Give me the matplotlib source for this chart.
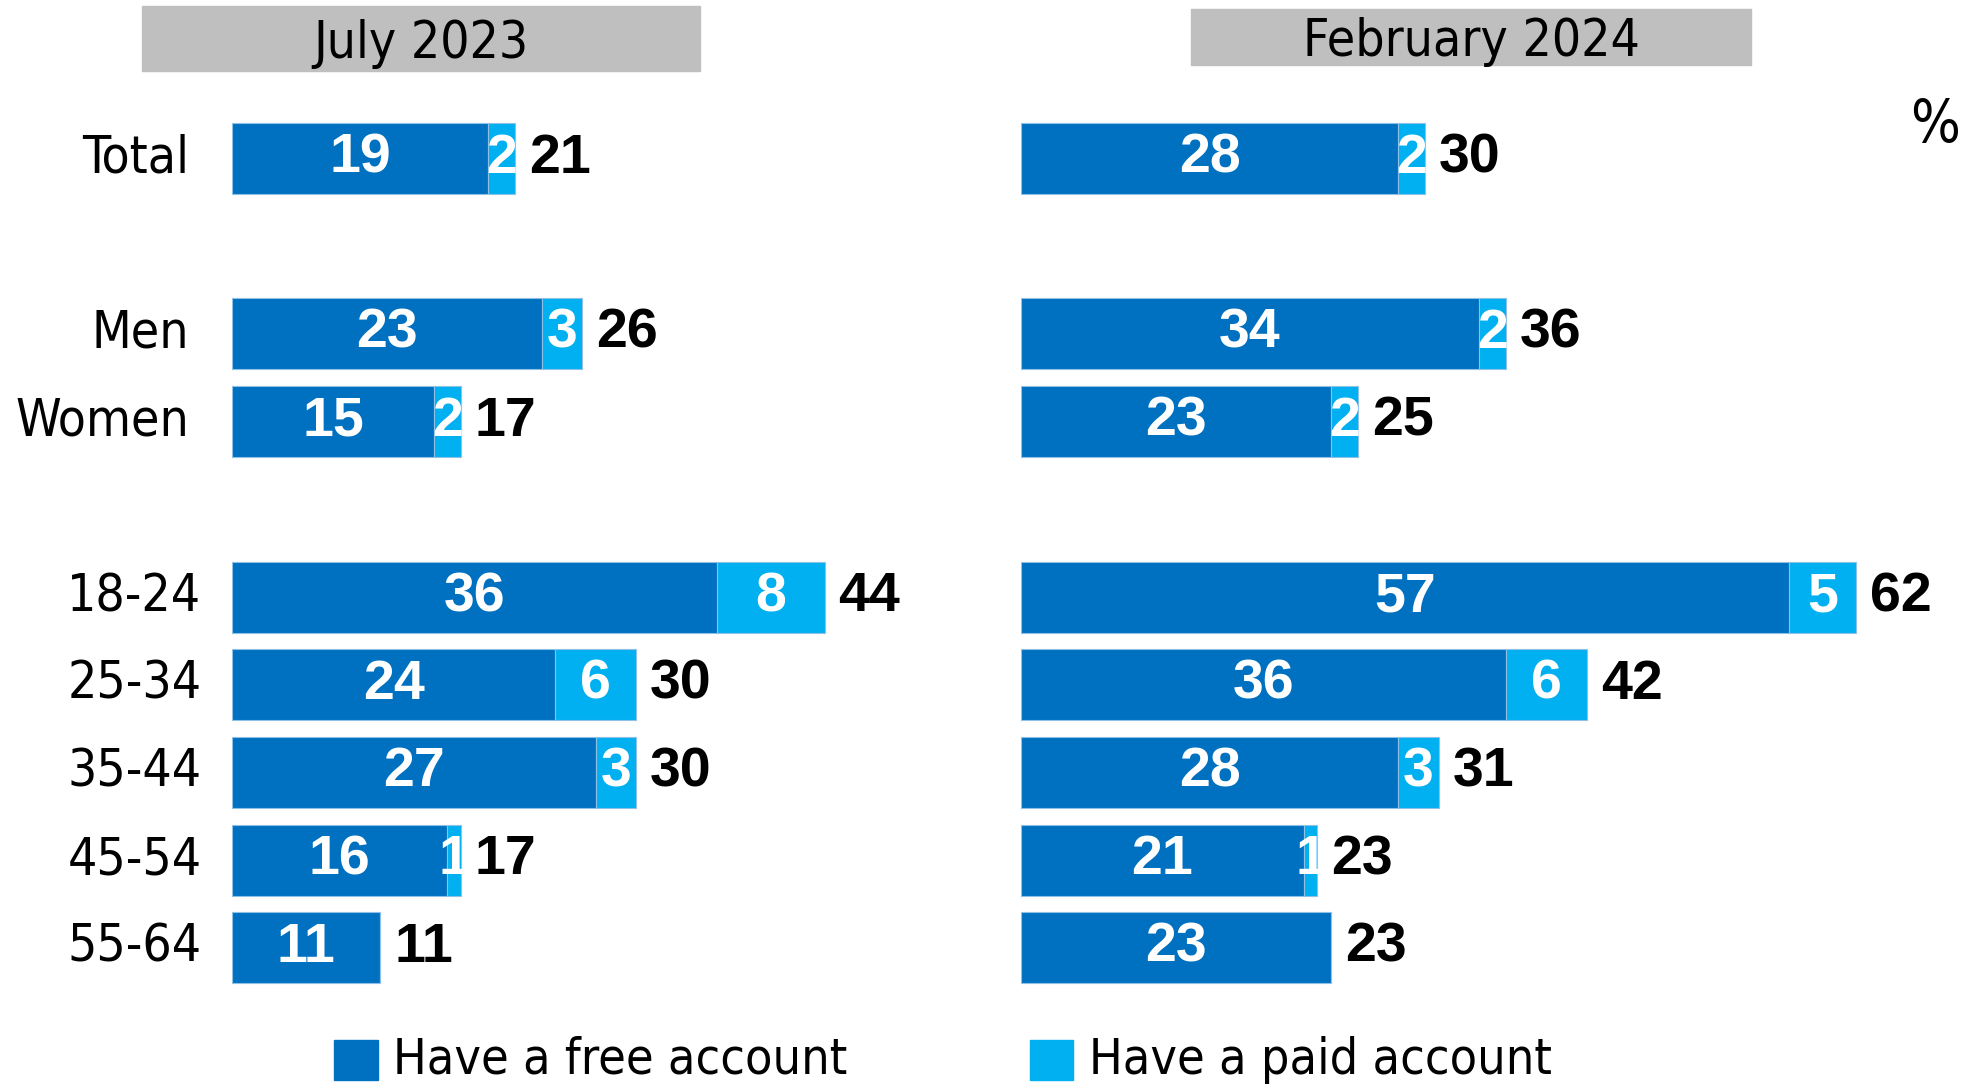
import matplotlib.pyplot as plt

# data
groups = ['Total', 'Men', 'Women', '18-24', '25-34', '35-44', '45-54', '55-64']
rows = [0, 2, 3, 5, 6, 7, 8, 9]
free_2023 = [19, 23, 15, 36, 24, 27, 16, 11]
paid_2023 = [2, 3, 2, 8, 6, 3, 1, 0]
total_2023 = [21, 26, 17, 44, 30, 30, 17, 11]
free_2024 = [28, 34, 23, 57, 36, 28, 21, 23]
paid_2024 = [2, 2, 2, 5, 6, 3, 1, 0]
total_2024 = [30, 36, 25, 62, 42, 31, 23, 23]
panels = ['July 2023', 'February 2024']

FREE = '#0070C0'
PAID = '#00B0F0'
NARROW = dict(family='DejaVu Sans', fontstretch='condensed')
BOLD = dict(family=['Liberation Sans', 'DejaVu Sans'], fontweight='bold')

W, H = 1964, 1089
S = 1.2526  # reference display -> full pixels
fig = plt.figure(figsize=(W / 100, H / 100), dpi=100)

bottom = 1 - (114.7 + 877) / H
height = 877 / H
ax1 = fig.add_axes([232 / W, bottom, 606 / W, height])
ax2 = fig.add_axes([1021 / W, bottom, 916 / W, height])
ax1.set_xlim(0, 45)
ax2.set_xlim(0, 68)


def draw(ax, free, paid, total):
    ax.barh(rows, free, height=0.81, color=FREE, edgecolor='#8fc0e6', linewidth=0.8)
    ax.barh(rows, paid, left=free, height=0.81, color=PAID, edgecolor='#8fc0e6', linewidth=0.8)
    for r, f, p, t in zip(rows, free, paid, total):
        ax.text(f / 2, r, str(f), ha='center', va='center', color='white',
                fontsize=40, **BOLD)
        if p > 0:
            ax.text(f + p / 2, r, str(p), ha='center', va='center', color='white',
                    fontsize=40, **BOLD)
        ax.annotate(str(t), (f + p, r), xytext=(10, 0), textcoords='offset points',
                    ha='left', va='center', color='black', fontsize=40, **BOLD)
    ax.set_ylim(9.5, -0.5)
    ax.axis('off')


draw(ax1, free_2023, paid_2023, total_2023)
draw(ax2, free_2024, paid_2024, total_2024)

# row labels
for g, r in zip(groups, rows):
    ax1.annotate(g, (0, r), xytext=(-31 if r < 4 else -22, 0), textcoords='offset points',
                 ha='right', va='center', fontsize=37, **NARROW)

# panel headers
for x0, x1, y0, y1, name in [(113, 559, 5, 57, panels[0]), (951, 1398, 7, 52, panels[1])]:
    x0, x1, y0, y1 = [v * S for v in (x0, x1, y0, y1)]
    fig.patches.append(plt.Rectangle((x0 / W, 1 - y1 / H), (x1 - x0) / W, (y1 - y0) / H,
                                     transform=fig.transFigure, color='#BFBFBF', zorder=0))
    fig.text((x0 + x1) / 2 / W, 1 - ((y0 + y1) / 2 + 5) / H, name, ha='center', va='center',
             fontsize=37, **NARROW)

fig.text(1545 * S / W, 1 - 100 * S / H, '%', ha='center', va='center', fontsize=42, **NARROW)

# legend
for x_box, label, col in [(267, 'Have a free account', FREE), (822, 'Have a paid account', PAID)]:
    fig.patches.append(plt.Rectangle((x_box * S / W, 1 - 862 * S / H), 35 * S / W, 32 * S / H,
                                     transform=fig.transFigure, color=col))
    fig.text((x_box + 47) * S / W, 1 - 846 * S / H, label, ha='left', va='center',
             fontsize=36, **NARROW)

fig.savefig('out.png', dpi=100)
